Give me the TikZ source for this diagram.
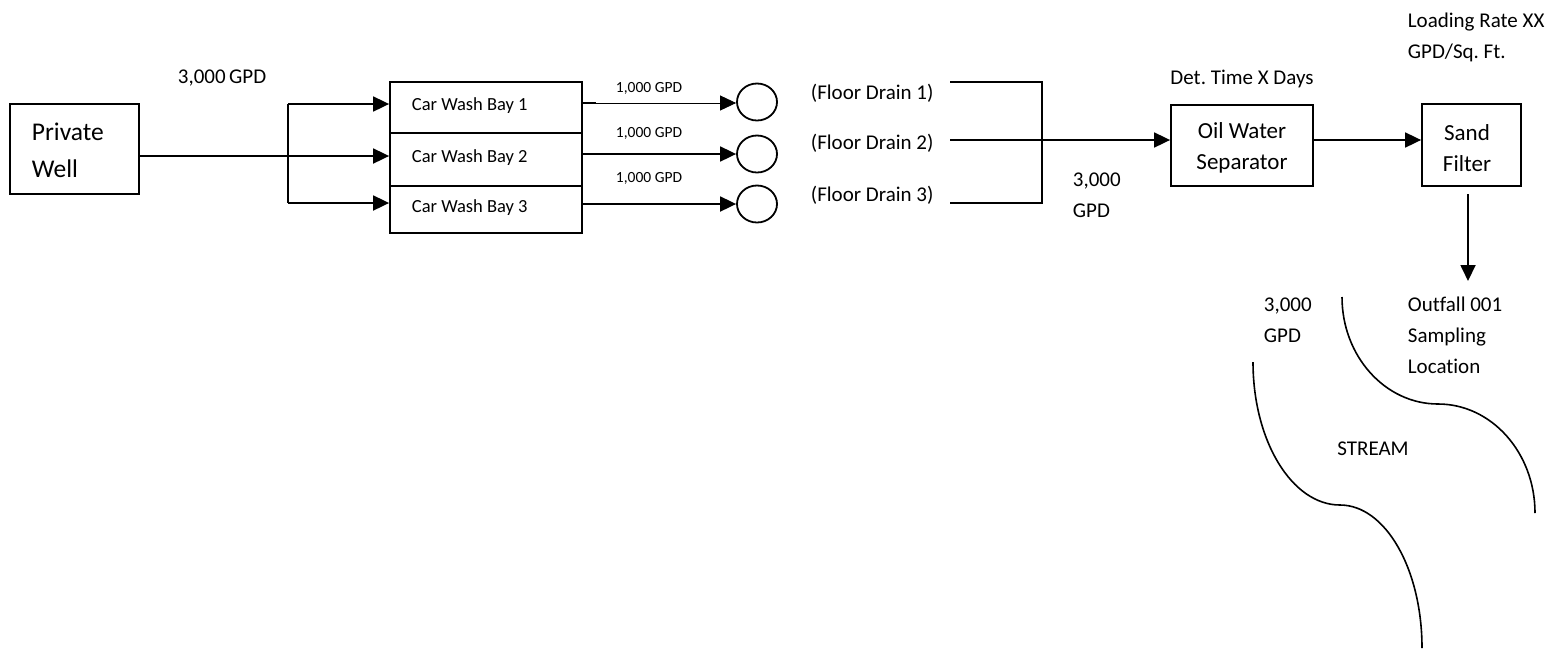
\documentclass[tikz,border=0pt]{standalone}
\usepackage{fontspec}
\setmainfont{Carlito}[Ligatures=NoCommon]
\frenchspacing
\usetikzlibrary{arrows.meta,shapes.geometric}
\begin{document}
\begin{tikzpicture}[x=1pt,y=-1pt,
  line width=1.8pt,
  box/.style={draw,line width=1.8pt,inner sep=0pt},
  flow/.style={line width=1.8pt,-{Triangle[length=16pt,width=15pt]}},
  thinflow/.style={line width=0.9pt,-{Triangle[length=16pt,width=15pt]}},
  lbl/.style={inner sep=0pt,anchor=west},
  drain/.style={draw,ellipse,minimum width=40pt,minimum height=37pt,inner sep=0pt,line width=1.8pt},
  fbig/.style={font=\fontsize{25.5}{37}\selectfont},
  fmid/.style={font=\fontsize{21}{31}\selectfont},
  fsep/.style={font=\fontsize{23}{31}\selectfont},
  fbay/.style={font=\fontsize{18.5}{22}\selectfont},
  fsmall/.style={font=\fontsize{15.5}{18}\selectfont}]
\useasboundingbox (0,0) rectangle (1555,649);

% Private well
\node[box,minimum width=129pt,minimum height=90pt] (well) at (74.5,149) {};
\node[lbl,fbig,align=left] (welltxt) at (31,150) {Private\\Well};
\node[lbl,fmid] (q1) at (177,78) {3,000\,GPD};

% split
\coordinate (sp) at (288,156);
\coordinate (sptop) at (288,104);
\coordinate (spbot) at (288,203);
\draw (well.east |- sp) -- (sp);
\draw (sptop) -- (spbot);

% car wash bays
\node[box,minimum width=192pt,minimum height=51pt] (bay1) at (486,107.5) {};
\node[box,minimum width=192pt,minimum height=53pt] (bay2) at (486,159.5) {};
\node[box,minimum width=192pt,minimum height=47pt] (bay3) at (486,209.5) {};
\node[lbl,fbay] (b1t) at (411,106) {Car Wash Bay 1};
\node[lbl,fbay] (b2t) at (411,158) {Car Wash Bay 2};
\node[lbl,fbay] (b3t) at (411,208) {Car Wash Bay 3};

\draw[flow] (sptop) -- (sptop -| bay1.west);
\draw[flow] (sp) -- (sp -| bay2.west);
\draw[flow] (spbot) -- (spbot -| bay3.west);

% drains
\node[drain] (d1) at (757,102) {};
\node[drain] (d2) at (757,154) {};
\node[drain] (d3) at (757,204) {};
\coordinate (s1) at (596,103);
\draw (bay1.east |- s1) -- (s1);
\draw[thinflow] (s1) -- (d1.west |- s1);
\draw[flow] (bay2.east |- d2) -- (d2.west);
\draw[flow] (bay3.east |- d3) -- (d3.west);
\node[fsmall,inner sep=0pt] (g1) at (649,88) {1,000 GPD};
\node[fsmall,inner sep=0pt] (g2) at (649,133) {1,000 GPD};
\node[fsmall,inner sep=0pt] (g3) at (649,178) {1,000 GPD};

% floor drain labels
\node[lbl,fmid] (fd1) at (810,93) {(Floor Drain 1)};
\node[lbl,fmid] (fd2) at (810,143) {(Floor Drain 2)};
\node[lbl,fmid] (fd3) at (810,195) {(Floor Drain 3)};

\coordinate (m1) at (950,82);
\coordinate (m2) at (950,140);
\coordinate (m3) at (950,203);
\coordinate (mx) at (1042,140);
\draw (m1) -- (m1 -| mx) -- (m3 -| mx) -- (m3);

% oil water separator
\node[box,minimum width=142pt,minimum height=81pt] (ows) at (1242,145.5) {};
\node[fsep,align=center,inner sep=0pt] (owst) at (1242,148) {Oil Water\\Separator};
\node[fmid,inner sep=0pt] (det) at (1242,79) {Det. Time X Days};
\draw[flow] (m2) -- (ows.west |- m2);
\node[lbl,fmid,align=left] (q2) at (1072,195) {3,000\\GPD};

% sand filter
\node[box,minimum width=99pt,minimum height=82pt] (sf) at (1471.5,145) {};
\node[fsep,align=center,inner sep=0pt] (sft) at (1467,148) {Sand\\Filter};
\node[lbl,fmid,align=left] (lr) at (1407,37) {Loading Rate XX\\GPD/Sq. Ft.};
\draw[flow] (ows.east |- m2) -- (sf.west |- m2);

% outfall
\coordinate (of0) at (1468,194);
\coordinate (of1) at (1468,281);
\draw[flow] (of0) -- (of1);
\node[lbl,fmid,align=left] (of) at (1407,335) {Outfall 001\\Sampling\\Location};
\node[lbl,fmid,align=left] (q3) at (1263,320) {3,000\\GPD};

% stream banks
\draw[line width=1.6pt] (1342,297) .. controls (1342,356) and (1385,404) .. (1438,404)
   .. controls (1491.6,404) and (1535,452.8) .. (1535,513);
\draw[line width=1.6pt] (1253,362) .. controls (1253,441) and (1292,505) .. (1340,505)
   .. controls (1385.3,505) and (1422,569) .. (1422,648);
\node[fmid,inner sep=0pt] (stream) at (1373,449) {STREAM};
\end{tikzpicture}
\end{document}
